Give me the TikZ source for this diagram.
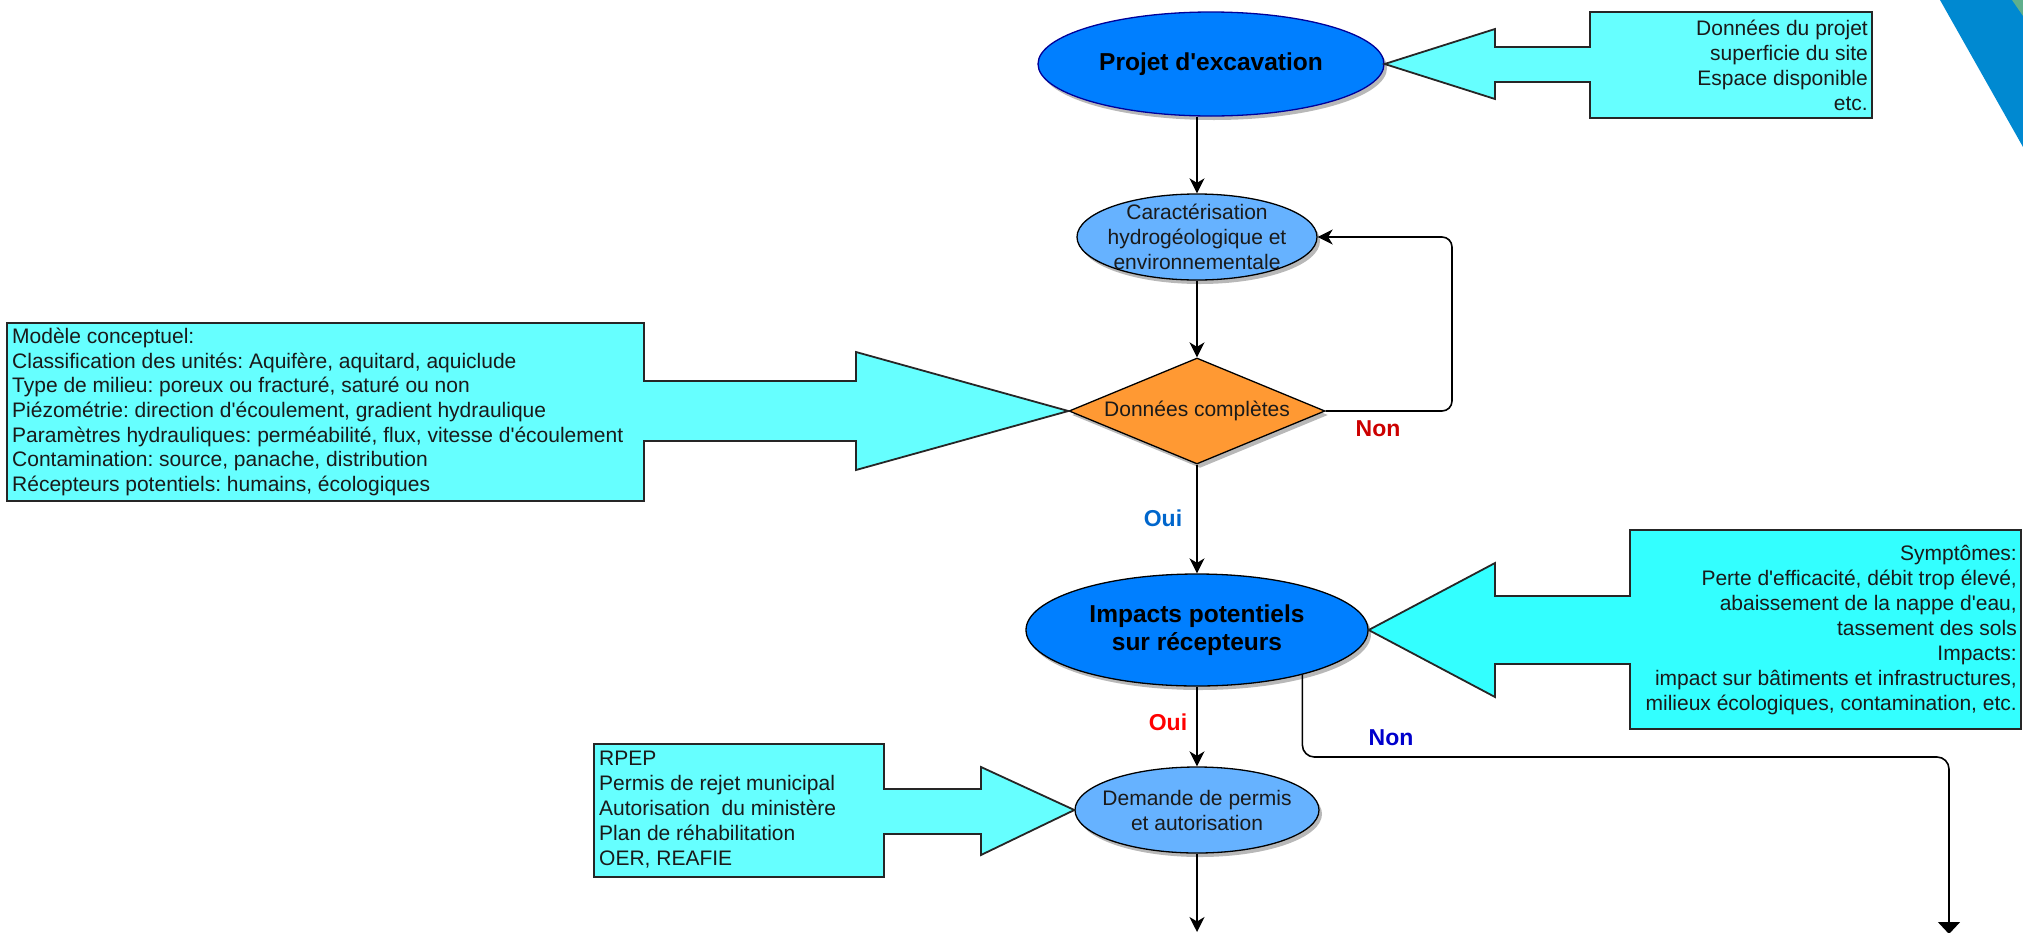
\documentclass[tikz,border=0pt]{standalone}
\usepackage{fontspec}
\setmainfont{Liberation Sans}
\usetikzlibrary{shapes.geometric,arrows.meta,shadows}
\definecolor{dblue}{HTML}{007FFF}
\definecolor{lblue}{HTML}{66B2FF}
\definecolor{orng}{HTML}{FF9933}
\definecolor{cyanA}{HTML}{66FFFF}
\definecolor{cyanB}{HTML}{33FFFF}
\definecolor{txt}{HTML}{1A1A1A}
\definecolor{nonred}{HTML}{CC0000}
\definecolor{ouiblue}{HTML}{0066CC}
\definecolor{ouired}{HTML}{FF0000}
\definecolor{nonblue}{HTML}{0000CC}
\definecolor{decoblue}{HTML}{0089D1}
\definecolor{decogreen}{HTML}{5FAF8C}
\newcommand\ap{\textquotesingle}
\frenchspacing
\begin{document}
\begin{tikzpicture}[x=1pt,y=-1pt,
  shad/.style={drop shadow={shadow xshift=3pt,shadow yshift=-4pt,fill=black,opacity=0.28}},
  ell/.style={ellipse,draw=black,line width=1.3pt,inner sep=0pt,shad},
  tx/.style={inner sep=0pt,text=txt,font=\fontsize{21}{25}\selectfont},
  btx/.style={inner sep=0pt,text=black,align=center,font=\bfseries\fontsize{24.5}{28}\selectfont},
  lab/.style={inner sep=0pt,font=\bfseries\fontsize{23}{27}\selectfont},
  callA/.style={draw=black!85,line width=1.8pt,fill=cyanA,line join=miter},
  callB/.style={draw=black!85,line width=1.8pt,fill=cyanB,line join=miter},
  conn/.style={draw=black,line width=1.6pt,-{Stealth[length=15pt,width=15pt,inset=4.5pt]}},
  conn2/.style={draw=black,line width=1.6pt,-{Triangle[length=12pt,width=22pt]}}
]
\useasboundingbox (0,0) rectangle (2023,932);

% decoration top right
\fill[decoblue] (1940,0) -- (2023,0) -- (2023,147) -- cycle;
\fill[decogreen] (2012,0) -- (2023,0) -- (2023,16) -- cycle;

% main nodes
\node[ell,fill=dblue,draw=blue!60!black,minimum width=346pt,minimum height=104pt] (proj) at (1211,64) {};
\node[btx] (projT) at (proj) {Projet d\ap excavation};

\node[ell,fill=lblue,minimum width=240pt,minimum height=86pt] (car) at (1197,237) {};
\node[tx,align=center] (carT) at (car) {Caractérisation\\hydrogéologique et\\environnementale};

\node[shape=diamond,aspect=2.37,minimum width=256pt,minimum height=106pt,inner sep=0pt,
      fill=orng,draw=black,line width=1.3pt,shad] (dec) at (1197,411) {};
\node[tx] (decT) at (dec) {Données complètes};

\node[ell,fill=dblue,minimum width=342pt,minimum height=112pt] (imp) at (1197,630) {};
\node[btx] (impT) at (imp) {Impacts potentiels\\sur récepteurs};

\node[ell,fill=lblue,minimum width=244pt,minimum height=86pt] (dem) at (1197,810) {};
\node[tx,align=center] (demT) at (dem) {Demande de permis\\et autorisation};

% callouts
\draw[callA] (1872,12) -- (1590,12) -- (1590,47) -- (1495,47) -- (1495,29) -- (proj.east)
  -- (1495,99) -- (1495,82) -- (1590,82) -- (1590,118) -- (1872,118) -- cycle;
\node[tx,anchor=east,align=right] (trT) at (1868,65) {Données du projet\\superficie du site\\Espace disponible\\etc.};

\draw[callA] (7,323) -- (644,323) -- (644,381) -- (856,381) -- (856,352) -- (dec.west)
  -- (856,470) -- (856,441) -- (644,441) -- (644,501) -- (7,501) -- cycle;
\node[tx,anchor=west,align=left,font=\fontsize{21}{24.6}\selectfont] (lT) at (12,412) {Modèle conceptuel:\\Classification des unités: Aquifère, aquitard, aquiclude\\Type de milieu: poreux ou fracturé, saturé ou non\\Piézométrie: direction d\ap écoulement, gradient hydraulique\\Paramètres hydrauliques: perméabilité, flux, vitesse d\ap écoulement\\Contamination: source, panache, distribution\\Récepteurs potentiels: humains, écologiques};

\draw[callB] (2021,530) -- (1630,530) -- (1630,596) -- (1495,596) -- (1495,563) -- (imp.east)
  -- (1495,697) -- (1495,664) -- (1630,664) -- (1630,729) -- (2021,729) -- cycle;
\node[tx,anchor=east,align=right] (rT) at (2017,630) {Symptômes:\\Perte d\ap efficacité, débit trop élevé,\\abaissement de la nappe d\ap eau,\\tassement des sols\\Impacts:\\impact sur bâtiments et infrastructures,\\milieux écologiques, contamination, etc.};

\draw[callA] (594,744) -- (884,744) -- (884,789) -- (981,789) -- (981,767) -- (dem.west)
  -- (981,855) -- (981,834) -- (884,834) -- (884,877) -- (594,877) -- cycle;
\node[tx,anchor=west,align=left] (pT) at (599,810) {RPEP\\Permis de rejet municipal\\Autorisation\ \ du ministère\\Plan de réhabilitation\\OER, REAFIE};

% connectors
\draw[conn] (proj.south -| car.north) -- (car.north);
\draw[conn] (car.south) -- (dec.north);
\coordinate (fb) at (1452,320);
\draw[conn,rounded corners=10pt] (dec.east) -| (fb) |- (car.east);
\draw[conn] (dec.south) -- (imp.north);
\draw[conn] (imp.south) -- (dem.north);
\coordinate (endA) at (1197,932);
\draw[conn] (dem.south) -- (endA);
\coordinate (nb) at (1949,757);
\coordinate (endB) at (1949,934);
\draw[conn2,rounded corners=12pt] (imp.-23) |- (nb) -- (endB);

% labels
\node[lab,text=nonred] (non1) at (1378,429) {Non};
\node[lab,text=ouiblue] (oui1) at (1163,518) {Oui};
\node[lab,text=ouired] (oui2) at (1168,722) {Oui};
\node[lab,text=nonblue] (non2) at (1391,738) {Non};
\end{tikzpicture}
\end{document}
